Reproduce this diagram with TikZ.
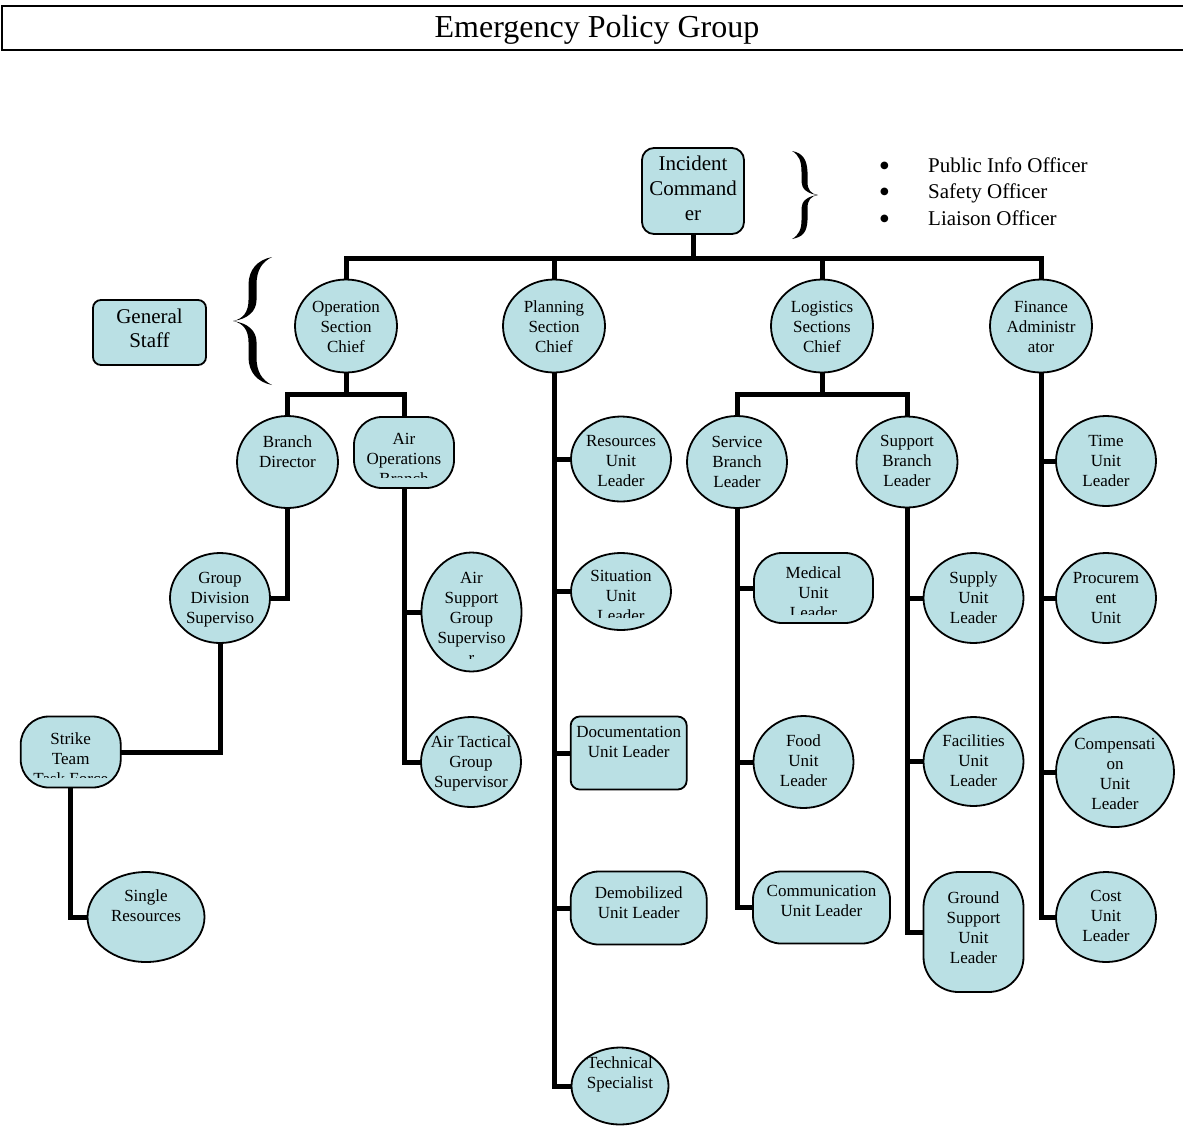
\documentclass[tikz,border=0pt]{standalone}
\usepackage{fontspec}
\setmainfont{Liberation Serif}
\newfontfamily\djv{DejaVu Sans}
\usetikzlibrary{shapes.geometric}
\definecolor{nodeblue}{RGB}{186,224,228}
\tikzset{
 shp/.style={draw=black, line width=1.8pt, fill=nodeblue, inner sep=0pt, outer sep=0pt},
 ell/.style={shp, ellipse},
 stad/.style={shp, rectangle, rounded corners=28pt},
 rbox/.style={shp, rectangle, rounded corners=9pt},
 conn/.style={line width=5pt, line join=miter, line cap=butt},
 txt/.style={font=\fontsize{17}{20}\selectfont, align=center, inner sep=0pt, anchor=north},
 bigtxt/.style={font=\fontsize{21}{25}\selectfont, align=center, inner sep=0pt, anchor=north},
}
\newcommand\ntext[4]{\node[txt] (#1) at (#2,#3-8.5) {\strut #4};}
\newcommand\bul{\makebox[48pt][l]{\raisebox{4pt}{\djv\fontsize{10}{12}\selectfont ●}}}
\begin{document}
\begin{tikzpicture}[x=1pt,y=-1pt]
\useasboundingbox (0,0) rectangle (1183,1128);
% title
\node[draw, line width=2.5pt, minimum width=1190pt, minimum height=44pt, inner sep=0pt,
      text height=24pt, text depth=5pt,
      font=\fontsize{32}{36}\selectfont] (title) at (597,28) {Emergency Policy Group};
% shapes
\node[rbox, rounded corners=12pt, minimum width=102pt, minimum height=86pt] (ic) at (693,191) {};
\node[rbox, rounded corners=8pt, minimum width=113pt, minimum height=65pt] (gs) at (149.5,332.5) {};
\node[ell, minimum width=102pt, minimum height=93pt] (op) at (346,326) {};
\node[ell, minimum width=102pt, minimum height=93pt] (plan) at (554,326) {};
\node[ell, minimum width=102pt, minimum height=93pt] (log) at (822,326) {};
\node[ell, minimum width=102pt, minimum height=93pt] (fin) at (1041,326) {};
\node[ell, minimum width=101pt, minimum height=92pt] (bd) at (287.5,462) {};
\node[stad, minimum width=100pt, minimum height=71pt] (ao) at (404,452.5) {};
\node[ell, minimum width=100pt, minimum height=90pt] (gds) at (220,598) {};
\node[ell, minimum width=100pt, minimum height=119pt] (asg) at (471.5,612) {};
\node[ell, minimum width=100pt, minimum height=90pt] (atg) at (471,762) {};
\node[stad, minimum width=100pt, minimum height=71pt] (st) at (70.7,752) {};
\node[ell, minimum width=117pt, minimum height=90pt] (sr) at (146,917) {};
\node[ell, minimum width=100pt, minimum height=85pt] (ru) at (621,459) {};
\node[ell, minimum width=100pt, minimum height=77pt] (sit) at (621,591.5) {};
\node[rbox, minimum width=116pt, minimum height=73pt] (doc) at (628.7,753) {};
\node[stad, minimum width=136pt, minimum height=73pt] (dem) at (638.7,908) {};
\node[ell, minimum width=97pt, minimum height=77pt] (ts) at (620,1086) {};
\node[ell, minimum width=100pt, minimum height=92pt] (svc) at (737,462) {};
\node[stad, minimum width=119pt, minimum height=70pt] (med) at (813.5,588) {};
\node[ell, minimum width=100pt, minimum height=92pt] (food) at (803.5,762) {};
\node[stad, minimum width=137pt, minimum height=72pt] (comm) at (821.5,907.5) {};
\node[ell, minimum width=101pt, minimum height=91pt] (sup) at (907,462) {};
\node[ell, minimum width=100pt, minimum height=90pt] (supply) at (973.5,598) {};
\node[ell, minimum width=100pt, minimum height=89pt] (fac) at (973.5,761.5) {};
\node[stad, rounded corners=35pt, minimum width=100pt, minimum height=120pt] (gsu) at (973.5,932) {};
\node[ell, minimum width=100pt, minimum height=90pt] (time) at (1106,461) {};
\node[ell, minimum width=100pt, minimum height=90pt] (proc) at (1106,598) {};
\node[ell, minimum width=118pt, minimum height=110pt] (comp) at (1115,772) {};
\node[ell, minimum width=100pt, minimum height=90pt] (cost) at (1106,917) {};
% texts
\node[bigtxt] (t-ic) at (693,152.5) {\strut Incident\\Command\\er};
\node[bigtxt, font=\fontsize{21}{24}\selectfont] (t-gs) at (149.5,306.9) {\strut General\\Staff};
\node[anchor=north west, inner sep=0pt, align=left, font=\fontsize{21}{26.5}\selectfont] (officers) at (880,153.5)
  {\strut\bul Public Info Officer\\\bul Safety Officer\\\bul Liaison Officer};
\ntext{t-op}{346}{306.7}{Operation\\Section\\Chief}
\ntext{t-plan}{554}{306.7}{Planning\\Section\\Chief}
\ntext{t-log}{822}{306.7}{Logistics\\Sections\\Chief}
\ntext{t-fin}{1041}{306.7}{Finance\\Administr\\ator}
\ntext{t-bd}{287.5}{442}{Branch\\Director}
\begin{scope}
\clip (340,420) rectangle (470,477.5);
\ntext{t-ao}{404}{439}{Air\\Operations\\Branch}
\end{scope}
\ntext{t-gds}{220}{578}{Group\\Division\\Superviso}
\begin{scope}
\clip (410,560) rectangle (535,658);
\ntext{t-asg}{471.5}{578}{Air\\Support\\Group\\Superviso\\r}
\end{scope}
\ntext{t-atg}{471}{742}{Air Tactical\\Group\\Supervisor}
\begin{scope}
\clip (15,720) rectangle (130,777);
\ntext{t-st}{70.7}{739}{Strike\\Team\\Task Force}
\end{scope}
\ntext{t-sr}{146}{896}{Single\\Resources}
\ntext{t-ru}{621}{441}{Resources\\Unit\\Leader}
\begin{scope}
\clip (560,556) rectangle (680,617.5);
\ntext{t-sit}{621}{576}{Situation\\Unit\\Leader}
\end{scope}
\ntext{t-doc}{628.7}{732}{Documentation\\Unit Leader}
\ntext{t-dem}{638.7}{893}{Demobilized\\Unit Leader}
\ntext{t-ts}{620}{1062.7}{Technical\\Specialist}
\ntext{t-svc}{737}{441.7}{Service\\Branch\\Leader}
\begin{scope}
\clip (750,556) rectangle (880,614);
\ntext{t-med}{813.5}{573}{Medical\\Unit\\Leader}
\end{scope}
\ntext{t-food}{803.5}{740.7}{Food\\Unit\\Leader}
\ntext{t-comm}{821.5}{890.7}{Communication\\Unit Leader}
\ntext{t-sup}{907}{441}{Support\\Branch\\Leader}
\ntext{t-supply}{973.5}{578}{Supply\\Unit\\Leader}
\ntext{t-fac}{973.5}{740.6}{Facilities\\Unit\\Leader}
\ntext{t-gsu}{973.5}{897.5}{Ground\\Support\\Unit\\Leader}
\ntext{t-time}{1106}{441}{Time\\Unit\\Leader}
\ntext{t-proc}{1106}{578}{Procurem\\ent\\Unit}
\ntext{t-comp}{1115}{744}{Compensati\\on\\Unit\\Leader}
\ntext{t-cost}{1106}{895.6}{Cost\\Unit\\Leader}
% braces
\fill[black] (792,151) .. controls (803,153) and (807,160) .. (807.5,172) -- (807.5,182)
  .. controls (807.5,190) and (811,194) .. (818,195) .. controls (811,196) and (807.5,200) .. (807.5,208)
  -- (807.5,220) .. controls (807,232) and (803,237) .. (792,239)
  .. controls (799,235) and (801.5,229) .. (801.5,220) -- (801.5,208)
  .. controls (801.5,201) and (808,196) .. (818,195) .. controls (808,194) and (801.5,189) .. (801.5,182)
  -- (801.5,172) .. controls (801.5,161) and (799,155) .. (792,151) -- cycle;
\fill[black] (272,257) .. controls (257,260) and (248.5,270) .. (248.5,285) -- (248.5,300)
  .. controls (248.5,312) and (243,319) .. (233,321) .. controls (243,323) and (248.5,330) .. (248.5,342)
  -- (248.5,357) .. controls (248.5,372) and (257,382) .. (272,385)
  .. controls (262,380) and (256.5,372) .. (256.5,357) -- (256.5,342)
  .. controls (256.5,331) and (248,323) .. (233,321) .. controls (248,319) and (256.5,311) .. (256.5,300)
  -- (256.5,285) .. controls (256.5,270) and (262,262) .. (272,257) -- cycle;
% connectors
\coordinate (bus) at (0,258);
\coordinate (sbus) at (0,394);
\draw[conn] (op.north) -- (op.north |- bus) -- (fin.north |- bus) -- (fin.north);
\draw[conn] (ic.south) -- (ic.south |- bus);
\draw[conn] (plan.north) -- (plan.north |- bus);
\draw[conn] (log.north) -- (log.north |- bus);
\draw[conn] (op.south) -- (op.south |- sbus);
\draw[conn] (bd.north) -- (bd.north |- sbus) -- (ao.north |- sbus) -- (ao.north);
\draw[conn] (bd.south) |- (gds.east);
\draw[conn] (gds.south) |- (st.east);
\draw[conn] (st.south) |- (sr.west);
\draw[conn] (ao.south) |- (atg.west);
\draw[conn] (ao.south |- asg.west) -- (asg.west);
\draw[conn] (plan.south) |- (ts.west);
\foreach \n in {ru,sit,doc,dem} \draw[conn] (plan.south |- \n.west) -- (\n.west);
\draw[conn] (log.south) -- (log.south |- sbus);
\draw[conn] (svc.north) -- (svc.north |- sbus) -- (sup.north |- sbus) -- (sup.north);
\draw[conn] (svc.south) |- (comm.west);
\foreach \n in {med,food} \draw[conn] (svc.south |- \n.west) -- (\n.west);
\draw[conn] (sup.south) |- (gsu.west);
\foreach \n in {supply,fac} \draw[conn] (sup.south |- \n.west) -- (\n.west);
\draw[conn] (fin.south) |- (cost.west);
\foreach \n in {time,proc,comp} \draw[conn] (fin.south |- \n.west) -- (\n.west);
\end{tikzpicture}
\end{document}
